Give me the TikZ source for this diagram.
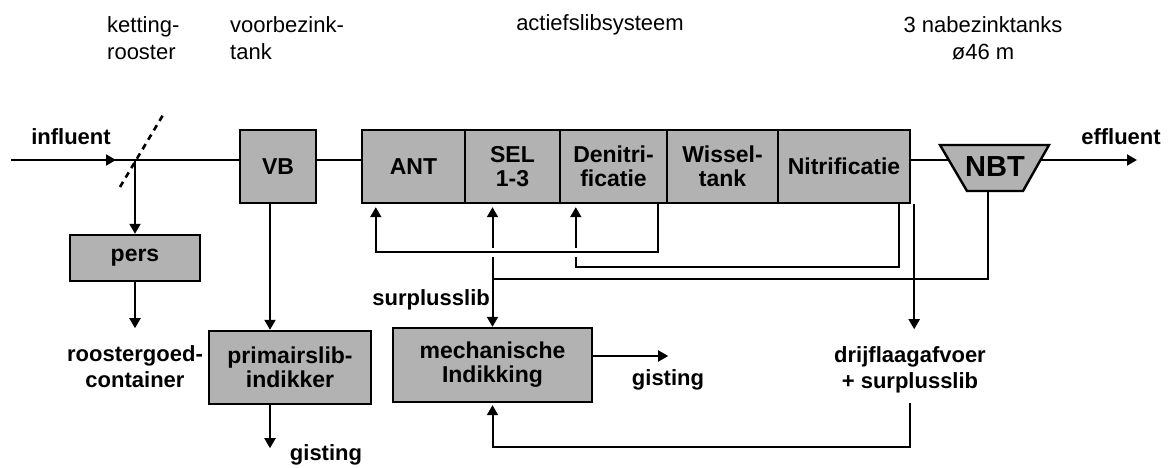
\documentclass[tikz,border=0pt]{standalone}
\usepackage{fontspec}
\setmainfont{Liberation Sans}
\usetikzlibrary{arrows.meta,calc}
\definecolor{boxgray}{RGB}{178,178,178}
\begin{document}
\begin{tikzpicture}[x=1pt,y=-1pt,
  box/.style={draw=black, line width=2.4pt, fill=boxgray, font=\bfseries\fontsize{23}{24}\selectfont, align=center, inner sep=0pt},
  ln/.style={line width=2pt},
  arr/.style={ln, -{Triangle[length=10pt,width=11pt]}},
  arrboth/.style={ln, {Triangle[length=10pt,width=11pt]}-{Triangle[length=10pt,width=11pt]}},
  halo/.style={preaction={draw=white, line width=9pt}},
  lbl/.style={font=\bfseries\fontsize{22}{26}\selectfont, align=center, inner sep=0pt},
  toplbl/.style={font=\fontsize{22}{27}\selectfont, align=left, inner sep=0pt}]
\useasboundingbox (0,0) rectangle (1171,468);

% top labels
\node[toplbl, anchor=west] (tk) at (107,38.5) {ketting-\\rooster};
\node[toplbl, anchor=west] (tv) at (230,38.5) {voorbezink-\\tank};
\node[toplbl] (ta) at (600,25) {actiefslibsysteem};
\node[toplbl, align=center] (tn) at (983,38.5) {3 nabezinktanks\\ø46 m};

% boxes
\node[box, minimum width=76, minimum height=73] (VB) at (278,166.5) {VB};
\node[box, minimum width=103, minimum height=73] (ANT) at (413.5,166.5) {ANT};
\node[box, minimum width=95, minimum height=73] (SEL) at (512.5,166.5) {SEL\\1-3};
\node[box, minimum width=107, minimum height=73] (Den) at (613.5,166.5) {Denitri-\\ficatie};
\node[box, minimum width=111, minimum height=73] (Wis) at (722.5,166.5) {Wissel-\\tank};
\node[box, minimum width=132, minimum height=73] (Nit) at (844,166.5) {Nitrificatie};
\node[box, minimum width=130, minimum height=46] (pers) at (135,258) {pers};
\node[box, minimum width=162, minimum height=73] (prim) at (290,367.5) {primairslib-\\indikker};
\node[box, minimum width=199, minimum height=74] (mech) at (492.5,365) {mechanische\\Indikking};

% NBT
\draw[line width=2.4pt, fill=boxgray] (940,145) -- (1049,145) -- (1023,191) -- (967,191) -- cycle;
\node[lbl, font=\bfseries\fontsize{29}{30}\selectfont] (NBT) at (995,167) {NBT};
\coordinate (nbtL) at (948.8,160);
\coordinate (nbtR) at (1040,160);
\coordinate (nbtB) at (988,191);

% labels
\node[lbl] (influent) at (71,137) {influent};
\node[lbl] (effluent) at (1121,137) {effluent};
\node[lbl, anchor=east] (surplus) at (490,300) {surplusslib};
\node[lbl] (rgc) at (135,367) {roostergoed-\\container};
\node[lbl] (gist1) at (326,455) {gisting};
\node[lbl] (gist2) at (668,380) {gisting};
\node[lbl] (drijf) at (910,370) {drijflaagafvoer\\+ surplusslib};

% influent and screen
\coordinate (inf) at (11,160);
\coordinate (J) at (135,160);
\coordinate (scrA) at (120,187);
\coordinate (scrB) at (163,115);
\draw[ln] (inf) -- (inf -| VB.west);
\draw[arr] (inf) -- ++(105,0);
\draw[line width=2.6pt, dash pattern=on 6pt off 5pt] (scrA) -- (scrB);
\draw[arr] (J) -- (pers.north);
\draw[arr] (pers.south) -- ++(0,46);

% main line
\draw[ln] (inf -| VB.east) -- (inf -| ANT.west);
\draw[ln] (nbtL -| Nit.east) -- (nbtL);
\draw[arr] (nbtR) -- ++(97,0);

% VB to primairslib
\draw[arr] ([xshift=-8pt]VB.south) -- ([xshift=-8pt]VB.south |- prim.north);
\draw[arr] ([xshift=-20pt]prim.south) -- ++(0,43);

% recirculations
\draw[arrboth, shorten <=3pt] (mech.north |- SEL.south) -- (mech.north);
\draw[arr, shorten >=3pt] ([xshift=-12pt]Nit.south east) -- ++(0,63) -| ([xshift=17pt]Den.south west);
\draw[arr, halo, shorten >=3pt] ([xshift=-10pt]Den.south east) -- ++(0,48) -| ([xshift=15pt]ANT.south west);
\draw[ln] (nbtB) |- ($(mech.north)+(0,-48)$);

% drijflaag
\draw[arr] ([xshift=3pt]Nit.south east) -- ++(0,125);
\draw[arr, shorten >=2pt] ([yshift=-33pt]drijf.center) -- ++(0,44) -| (mech.south);

% mech to gisting
\draw[arr] ([yshift=9pt]mech.east) -- ++(75,0);
\end{tikzpicture}
\end{document}
